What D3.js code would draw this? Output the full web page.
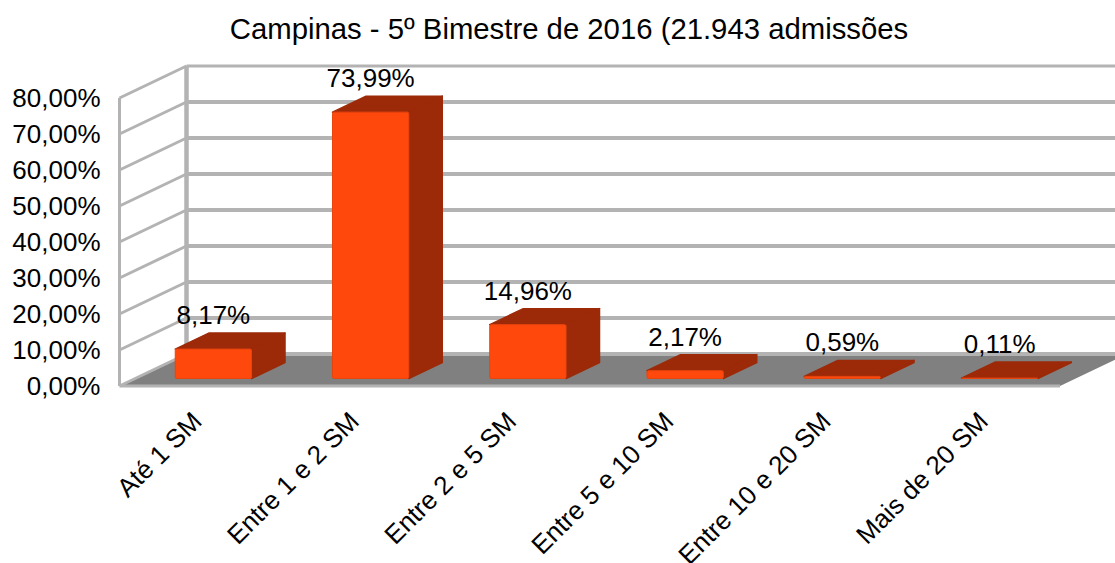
<!DOCTYPE html>
<html><head><meta charset="utf-8">
<style>html,body{margin:0;padding:0;background:#fff;overflow:hidden}svg{display:block}text{font-family:"Liberation Sans",Arial,sans-serif;fill:#000}</style>
<script src="https://cdn.jsdelivr.net/npm/d3@7/dist/d3.min.js"></script>
</head><body><svg id="c" width="1115" height="563"></svg>
<script>
const chartTitle = "Campinas - 5º Bimestre de 2016 (21.943 admissões";
const categories = ["Até 1 SM","Entre 1 e 2 SM","Entre 2 e 5 SM","Entre 5 e 10 SM","Entre 10 e 20 SM","Mais de 20 SM"];
const values = [8.17,73.99,14.96,2.17,0.59,0.11];
const valueLabels = ["8,17%","73,99%","14,96%","2,17%","0,59%","0,11%"];
const yTicks = [0,10,20,30,40,50,60,70,80];

const svg = d3.select("#c");
const W = 1115, depthX = 67, depthY = -32;
const plotL = 119.5, plotR = 1060, plotB = 386, plotT = 98;
const y = d3.scaleLinear().domain([0,80]).range([plotB,plotT]);
const x = d3.scaleBand().domain(categories).range([plotL,plotR+3]).paddingInner(0.515).paddingOuter(0.2575);
const grid = "#b3b3b3", floorC = "#808080", frontC = "#ff480c", dark = "#9c2a08";
const P = pts => "M" + pts.map(p=>p.join(",")).join("L") + "Z";

// floor
svg.append("path").attr("d",P([[plotL,y(0)],[plotR,y(0)],[plotR+depthX,y(0)+depthY],[plotL+depthX,y(0)+depthY]])).attr("fill",floorC);

// walls
const g = svg.append("g").attr("fill","none").attr("stroke",grid);
g.selectAll(".b").data(yTicks).join("line").attr("class","b").attr("x1",plotL+depthX).attr("x2",W)
  .attr("y1",d=>y(d)+depthY).attr("y2",d=>y(d)+depthY).attr("stroke-width",d=>d===80?3:4);
g.selectAll(".s").data(yTicks).join("line").attr("class","s").attr("x1",plotL).attr("x2",plotL+depthX)
  .attr("y1",d=>y(d)).attr("y2",d=>y(d)+depthY).attr("stroke-width",3);
g.append("line").attr("x1",plotL).attr("x2",plotL).attr("y1",y(80)).attr("y2",y(0)).attr("stroke-width",3);
g.append("line").attr("x1",plotL+depthX).attr("x2",plotL+depthX).attr("y1",y(80)+depthY).attr("y2",y(0)+depthY).attr("stroke-width",4.5);
g.append("line").attr("x1",plotL).attr("x2",plotR).attr("y1",y(0)).attr("y2",y(0)).attr("stroke-width",3);

// bars
const off = 0.25, bx = depthX*off - 1.5, by = depthY*off + 0.5;
const bars = svg.append("g").selectAll("g").data(categories.map((c,i)=>({c,v:values[i],l:valueLabels[i]}))).join("g");
const w = x.bandwidth(), dx = depthX*0.5, dy = depthY*0.5;
bars.each(function(d){
  const s = d3.select(this);
  const x0 = x(d.c)+bx, x1 = x0+w, yb = y(0)+by, yt = y(d.v)+by;
  s.append("path").attr("d",P([[x0,yt],[x1,yt],[x1+dx,yt+dy],[x0+dx,yt+dy]])).attr("fill",dark).attr("stroke",dark).attr("stroke-width",1.5).attr("stroke-linejoin","round");
  s.append("path").attr("d",P([[x1,yt],[x1+dx,yt+dy],[x1+dx,yb+dy],[x1,yb]])).attr("fill",dark).attr("stroke",dark).attr("stroke-width",1.5).attr("stroke-linejoin","round");
  s.append("rect").attr("x",x0).attr("y",yt).attr("width",w).attr("height",yb-yt).attr("fill",frontC).attr("stroke","#e8440e").attr("stroke-width",1).attr("rx",1.5);
  s.append("text").attr("x",x0+w/2).attr("y",yt-25).attr("text-anchor","middle").attr("font-size",26).text(d.l);
});

// y axis
const axis = d3.axisLeft(y).tickValues(yTicks).tickSize(0).tickPadding(0).tickFormat(d=>d3.format(".2f")(d).replace(".",",")+"%");
const ag = svg.append("g").attr("transform","translate(100.5,0)").call(axis);
ag.select(".domain").remove();
ag.attr("font-family",null).attr("font-size",26);
ag.selectAll("text").attr("dy","0.33em");

// x labels
svg.append("g").selectAll("text").data(categories).join("text")
  .attr("text-anchor","end").attr("font-size",26)
  .attr("transform",d=>`translate(${x(d)+bx+w/2-10},${423}) rotate(-45)`).text(d=>d);

svg.append("text").attr("x",569).attr("y",39).attr("text-anchor","middle").attr("font-size",29.3).text(chartTitle);
</script></body></html>
